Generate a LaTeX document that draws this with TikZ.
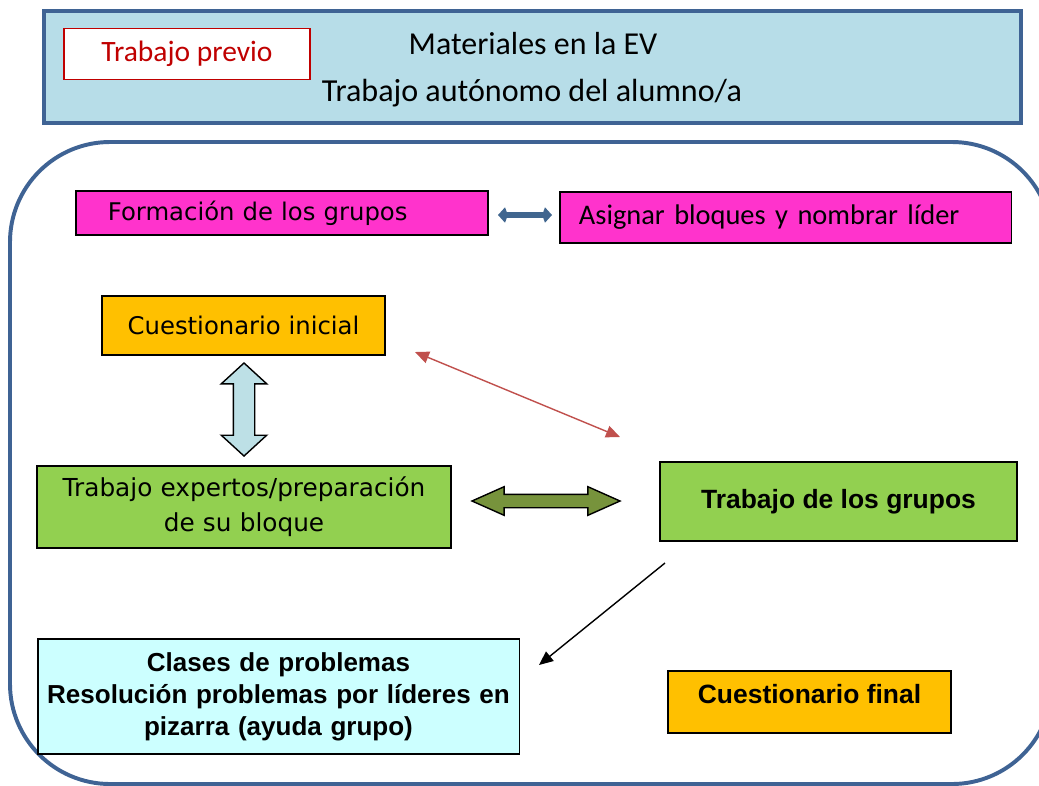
\documentclass[tikz,border=0pt]{standalone}
\usepackage{fontspec}
\setmainfont{Carlito}
\newfontfamily\comicfont{DejaVu Sans}
\newfontfamily\arialfont{Liberation Sans}
\usetikzlibrary{positioning, shapes.arrows, arrows.meta, fit}
\definecolor{frameblue}{HTML}{3F6394}
\definecolor{headblue}{HTML}{B7DDE8}
\definecolor{magbox}{HTML}{FF33CC}
\definecolor{orangebox}{HTML}{FFC000}
\definecolor{greenbox}{HTML}{92D050}
\definecolor{cyanbox}{HTML}{CCFFFF}
\definecolor{olivearr}{HTML}{77933C}
\definecolor{paleblue}{HTML}{BDE0E6}
\definecolor{arrowblue}{HTML}{41668F}
\definecolor{redline}{HTML}{C0504D}
\definecolor{redtext}{HTML}{C00000}

\begin{document}
\begin{tikzpicture}
		[x=0.025cm, y=-0.025cm,
		box/.style={draw=black, line width=0.8pt, inner sep=0pt},
		comicbox/.style={box, font=\comicfont\fontsize{17.3}{25}\selectfont},
		arialbox/.style={box, font=\arialfont\bfseries\fontsize{18.8}{23}\selectfont},
		blockarrow/.style={draw=black, line width=1pt}]
		\useasboundingbox (0,0) rectangle (1039,785);
		\node (head) [draw=frameblue, line width=3pt, fill=headblue, minimum width=24.425cm, minimum height=2.8cm] at (532.5,67) {};
		\node (previo) [draw=redtext, fill=white, line width=0.8pt, minimum width=6.15cm, minimum height=1.275cm, text=redtext, font=\fontsize{21}{24}\selectfont] at (187,54) {Trabajo previo};
		\node (mat) [font=\fontsize{22.7}{26}\selectfont] at (533,44) {Materiales en la EV};
		\node (aut) [font=\fontsize{22.8}{26}\selectfont] at (532,93) {Trabajo autónomo del alumno/a};
		\draw[frameblue, line width=2.8pt, rounded corners=2.5cm] (10,142) rectangle (1052,784);
		\node (formacion) [comicbox, fill=magbox, text width=8.7cm, inner xsep=0.8cm, minimum height=1.1cm, align=left] at (282,213) {Formación de los grupos};
		\node (asignar) [box, fill=magbox, text width=10.325cm, inner xsep=0.475cm, minimum height=1.275cm, align=left, font=\fontsize{20.2}{24}\selectfont] at (785.5,217.5) {Asignar bloques y nombrar líder};
		\node (inicial) [comicbox, fill=orangebox, minimum width=7.075cm, minimum height=1.475cm] at (243.5,325.5) {Cuestionario inicial};
		\node (expertos) [comicbox, fill=greenbox, text width=10.35cm, minimum height=2.05cm, align=center, font=\comicfont\fontsize{17.6}{25}\selectfont] at (244,507) {Trabajo expertos/preparación\\de su bloque};
		\node (grupos) [arialbox, fill=greenbox, minimum width=8.925cm, minimum height=1.975cm] at (838.5,501.5) {Trabajo de los grupos};
		\node (clases) [arialbox, fill=cyanbox, text width=12.025cm, minimum height=2.875cm, align=center, font=\arialfont\bfseries\fontsize{18.5}{22.8}\selectfont] at (278.5,696.5) {Clases de problemas\\Resolución problemas por líderes en\\pizarra (ayuda grupo)};
		\node (final) [arialbox, fill=orangebox, minimum width=7.075cm, minimum height=1.55cm, text depth=0.4cm] at (809.5,702) {Cuestionario final};

		\node (vert) [blockarrow, double arrow, fill=paleblue, shape border rotate=90, inner sep=0.25cm, minimum height=2.325cm, minimum width=1.1cm, double arrow head extend=0.3cm, double arrow tip angle=95] at (244,409.5) {};
		\node (horiz) [blockarrow, double arrow, fill=olivearr, inner sep=0.15cm, minimum height=3.7cm, minimum width=0.675cm, double arrow head extend=0.19cm, double arrow tip angle=48] at (546,501) {};

		\coordinate (fa) at (498,215);
		\coordinate (fb) at (552,215);
		\draw[arrowblue, line width=4.5pt, {Kite[length=7pt,width=11pt,inset=2pt]}-{Kite[length=7pt,width=11pt,inset=2pt]}] (fa) -- (fb);
		\coordinate (ra) at (415,352);
		\coordinate (rb) at (620,437);
		\draw[redline, line width=1pt, {Triangle[length=0.35cm,width=0.3cm]}-{Triangle[length=0.35cm,width=0.3cm]}] (ra) -- (rb);
		\coordinate (ka) at (665,563);
		\coordinate (kb) at (539,665);
		\draw[black, line width=1pt, -{Triangle[length=0.35cm,width=0.3cm]}] (ka) -- (kb);
	\end{tikzpicture}
\end{document}
